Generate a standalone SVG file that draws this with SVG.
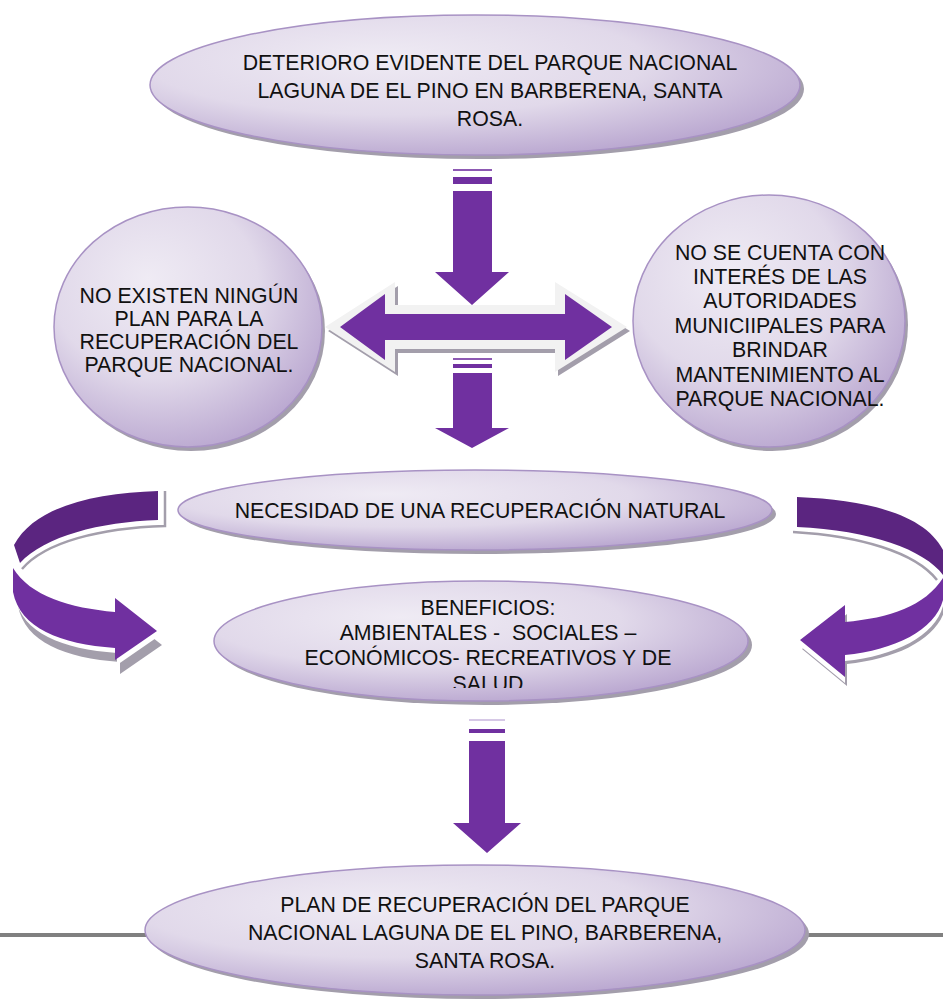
<svg xmlns="http://www.w3.org/2000/svg" width="943" height="1000" viewBox="0 0 943 1000">
<defs>
<radialGradient id="bub" cx="0.4" cy="0.35" r="0.7" fx="0.35" fy="0.3">
<stop offset="0" stop-color="#efebf4"/>
<stop offset="0.55" stop-color="#e1d9ea"/>
<stop offset="1" stop-color="#b8a5cf"/>
</radialGradient>
<clipPath id="benclip"><rect x="200" y="570" width="560" height="118"/></clipPath>
<style>
.sh{fill:#a39eab}
.bub{fill:url(#bub);stroke:#a892c4;stroke-width:1.5}
.t{font-family:"Liberation Sans",Arial,sans-serif;font-size:21.3px;fill:#111;text-anchor:middle}
.pu{fill:#7030a0}
.dk{fill:#5b2580}
.gl{fill:none;stroke:#a39eab;stroke-width:2.5}
.wh{fill:#ffffff}
</style>
</defs>
<rect width="943" height="1000" fill="#ffffff"/>

<g id="connectors">
  <!-- top down arrow -->
  <g id="arrow-down-1">
    <rect class="pu" x="453" y="169" width="39" height="2" opacity="0.8"/>
    <rect class="pu" x="453" y="177" width="39" height="7"/>
    <polygon class="pu" points="453,191 492,191 492,272 509,272 472,305 435,272 453,272"/>
  </g>
  <!-- double arrow -->
  <g id="arrow-double">
    <polygon class="sh" points="328,331 398,286 398,309 558,309 558,286 630,331 558,376 558,353 398,353 398,376"/>
    <polygon fill="#f2f2f2" points="325,327 395,282 395,305 555,305 555,282 627,327 555,372 555,349 395,349 395,372"/>
    <polygon class="pu" points="340,327 385,294 385,314 565,314 565,294 612,327 565,360 565,340 385,340 385,360"/>
  </g>
  <!-- second down arrow -->
  <g id="arrow-down-2">
    <rect class="pu" x="453" y="358" width="39" height="2" opacity="0.8"/>
    <rect class="pu" x="453" y="364" width="39" height="4"/>
    <polygon class="pu" points="453,373 492,373 492,428 509,428 472,448 435,428 453,428"/>
  </g>
  <!-- bottom down arrow -->
  <g id="arrow-down-3">
    <rect x="469" y="719" width="36" height="2" fill="#d6c8e6"/>
    <rect class="pu" x="469" y="729" width="36" height="4"/>
    <polygon class="pu" points="469,741 505,741 505,823 521,823 487,853 453,823 469,823"/>
  </g>
  <!-- left curved arrow -->
  <g id="arrow-curve-left">
    <path class="gl" d="M165,491 L165,526 C100,528 45,542 22,569"/>
    <path class="dk" d="M158,491 C95,493 35,506 14,545 L20,563 C45,536 100,522 158,520 Z"/>
    <path class="sh" d="M17,576 C34,604 74,616 119,620 L119,606 L161,639 L119,668 L119,656 C64,652 24,636 17,600 Z" transform="translate(1,6)"/>
    <path class="wh" d="M13,568 C30,596 70,608 115,612 L115,598 L157,631 L115,660 L115,648 C60,644 20,628 13,592 Z" transform="translate(2,5)"/>
    <path class="pu" d="M13,568 C30,596 70,608 115,612 L115,598 L157,631 L115,660 L115,648 C60,644 20,628 13,592 Z"/>
  </g>
  <!-- right curved arrow -->
  <g id="arrow-curve-right">
    <path class="gl" d="M793,532 C860,536 915,552 937,580"/>
    <path class="dk" d="M797,497 C870,500 925,515 943,550 L943,575 C925,550 870,530 797,527 Z"/>
    <path class="sh" d="M943,578 C925,608 890,621 845,625 L845,608 L800,643 L845,680 L845,658 C895,653 935,633 943,603 Z" transform="translate(2,6)"/>
    <path class="wh" d="M943,578 C925,608 890,621 845,625 L845,608 L800,643 L845,680 L845,658 C895,653 935,633 943,603 Z" transform="translate(0,3)"/>
    <path class="pu" d="M943,578 C925,606 890,618 845,622 L845,605 L800,640 L845,677 L845,655 C895,650 935,630 943,600 Z"/>
  </g>
  <!-- bottom gray line -->
  <rect id="base-line" x="0" y="933" width="943" height="4" fill="#808080"/>
</g>

<g id="node-top">
  <ellipse class="sh" cx="479" cy="89" rx="325" ry="70"/>
  <ellipse class="bub" cx="475" cy="85" rx="325" ry="70"/>
  <text class="t" x="490" y="69.5">DETERIORO EVIDENTE DEL PARQUE NACIONAL</text>
  <text class="t" x="490" y="97.5">LAGUNA DE EL PINO EN BARBERENA, SANTA</text>
  <text class="t" x="490" y="125.5">ROSA.</text>
</g>

<g id="node-left">
  <ellipse class="sh" cx="191" cy="331" rx="134" ry="120"/>
  <ellipse class="bub" cx="188" cy="327" rx="134" ry="120"/>
  <text class="t" x="189" y="303">NO EXISTEN NINGÚN</text>
  <text class="t" x="189" y="326">PLAN PARA LA</text>
  <text class="t" x="189" y="349">RECUPERACIÓN DEL</text>
  <text class="t" x="189" y="372">PARQUE NACIONAL.</text>
</g>

<g id="node-right">
  <ellipse class="sh" cx="772" cy="325" rx="136" ry="126"/>
  <ellipse class="bub" cx="769" cy="321" rx="136" ry="126"/>
  <text class="t" x="780" y="259.5">NO SE CUENTA CON</text>
  <text class="t" x="780" y="283.5">INTERÉS DE LAS</text>
  <text class="t" x="780" y="307.5">AUTORIDADES</text>
  <text class="t" x="780" y="332.5">MUNICIIPALES PARA</text>
  <text class="t" x="780" y="356.5">BRINDAR</text>
  <text class="t" x="780" y="381.5">MANTENIMIENTO AL</text>
  <text class="t" x="780" y="405.5">PARQUE NACIONAL.</text>
</g>

<g id="node-necesidad">
  <ellipse class="sh" cx="479" cy="514" rx="297" ry="40"/>
  <ellipse class="bub" cx="475" cy="510" rx="297" ry="40"/>
  <text class="t" x="480" y="517.5">NECESIDAD DE UNA RECUPERACIÓN NATURAL</text>
</g>

<g id="node-beneficios">
  <ellipse class="sh" cx="485" cy="645" rx="267" ry="60"/>
  <ellipse class="bub" cx="481" cy="641" rx="267" ry="60"/>
  <g clip-path="url(#benclip)">
    <text class="t" x="488" y="614.5">BENEFICIOS:</text>
    <text class="t" x="488" y="639.5" style="white-space:pre">AMBIENTALES -  SOCIALES –</text>
    <text class="t" x="488" y="664.5">ECONÓMICOS- RECREATIVOS Y DE</text>
    <text class="t" x="488" y="690.5">SALUD</text>
  </g>
</g>

<g id="node-bottom">
  <ellipse class="sh" cx="479" cy="934" rx="330" ry="65"/>
  <ellipse class="bub" cx="475" cy="930" rx="330" ry="65"/>
  <text class="t" x="485" y="911.5">PLAN DE RECUPERACIÓN DEL PARQUE</text>
  <text class="t" x="485" y="939.5">NACIONAL LAGUNA DE EL PINO, BARBERENA,</text>
  <text class="t" x="485" y="967.5">SANTA ROSA.</text>
</g>
</svg>
